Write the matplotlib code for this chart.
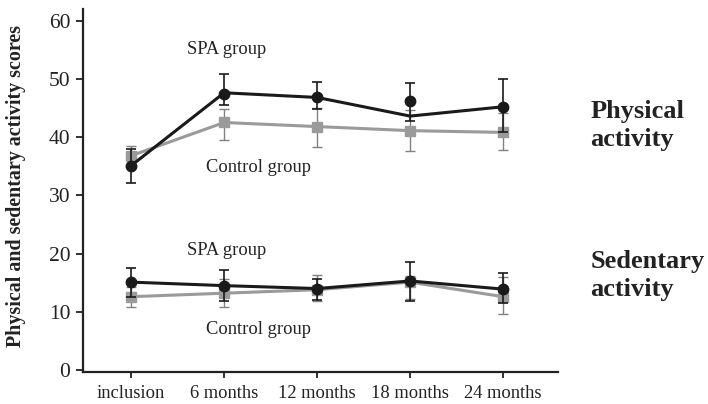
import numpy as np
import matplotlib
matplotlib.use("Agg")
import matplotlib.pyplot as plt

plt.rcParams['font.family'] = ['Liberation Serif', 'DejaVu Serif']

timepoints = ['inclusion', '6 months', '12 months', '18 months', '24 months']

# physical activity, SPA group (line vertices and marker positions differ at 18 months in the source)
phys_spa_line = [35.1, 47.6, 46.8, 43.6, 45.2]
phys_spa_mark = [35.1, 47.4, 46.8, 46.2, 45.2]
phys_spa_low = [32.2, 45.5, 44.8, 42.7, 40.9]
phys_spa_high = [38.0, 50.9, 49.4, 49.3, 50.0]

# physical activity, control group
phys_ctl = [36.8, 42.5, 41.8, 41.1, 40.8]
phys_ctl_low = [35.1, 39.5, 38.3, 37.6, 37.7]
phys_ctl_high = [38.5, 44.8, 45.0, 44.6, 44.1]

# sedentary activity, SPA group
sed_spa = [15.1, 14.5, 14.0, 15.3, 13.9]
sed_spa_low = [12.6, 11.8, 12.1, 11.9, 11.5]
sed_spa_high = [17.6, 17.2, 15.6, 18.5, 16.7]

# sedentary activity, control group
sed_ctl = [12.6, 13.2, 13.8, 15.1, 12.6]
sed_ctl_low = [10.9, 10.8, 11.9, 12.2, 9.6]
sed_ctl_high = [14.3, 15.6, 16.3, 16.1, 16.0]

BLACK = '#1a1a1a'
GRAY = '#9a9a9a'


def errs(mid, low, high):
    mid = np.array(mid)
    return [mid - np.array(low), np.array(high) - mid]


fig = plt.figure(figsize=(7.08, 4.04), dpi=100)
ax = fig.add_axes([0.117, 0.079, 0.671, 0.899])
x = np.arange(len(timepoints))

# control groups first (drawn under)
for mid, low, high in [(phys_ctl, phys_ctl_low, phys_ctl_high),
                       (sed_ctl, sed_ctl_low, sed_ctl_high)]:
    ax.errorbar(x, mid, yerr=errs(mid, low, high), fmt='none', ecolor='#808080',
                elinewidth=1.0, capsize=3.5, capthick=1.0, zorder=2)
    ax.plot(x, mid, color=GRAY, lw=2.2, marker='s', ms=6.5, mfc=GRAY, mec=GRAY, zorder=3)

# SPA groups
ax.errorbar(x, phys_spa_mark, yerr=errs(phys_spa_mark, phys_spa_low, phys_spa_high), fmt='none',
            ecolor=BLACK, elinewidth=1.2, capsize=3.5, capthick=1.2, zorder=4)
ax.plot(x, phys_spa_line, color=BLACK, lw=2.2, zorder=5)
ax.plot(x, phys_spa_mark, ls='none', marker='o', ms=7.5, mfc=BLACK, mec=BLACK, zorder=6)

ax.errorbar(x, sed_spa, yerr=errs(sed_spa, sed_spa_low, sed_spa_high), fmt='none',
            ecolor=BLACK, elinewidth=1.2, capsize=3.5, capthick=1.2, zorder=4)
ax.plot(x, sed_spa, color=BLACK, lw=2.2, marker='o', ms=7.5, mfc=BLACK, mec=BLACK, zorder=6)

ax.set_xlim(-0.52, 4.59)
ax.set_ylim(-0.34, 62.0)
ax.set_xticks(x)
ax.set_xticklabels(timepoints, fontsize=13.3, color='#222222')
ax.set_yticks(range(0, 61, 10))
ax.tick_params(axis='y', labelsize=15.5, direction='out', length=5, width=1.3, colors='#222222', pad=4)
ax.tick_params(axis='x', direction='out', length=4, width=1.3, colors='#222222', pad=5)
for s in ['top', 'right']:
    ax.spines[s].set_visible(False)
for s in ['left', 'bottom']:
    ax.spines[s].set_linewidth(1.6)
    ax.spines[s].set_color('#222222')

# group labels
ax.text(1.03, 55.0, 'SPA group', fontsize=13.3, ha='center', va='center', color='#222222')
ax.text(1.37, 34.7, 'Control group', fontsize=13.3, ha='center', va='center', color='#222222')
ax.text(1.03, 20.6, 'SPA group', fontsize=13.3, ha='center', va='center', color='#222222')
ax.text(1.37, 6.9, 'Control group', fontsize=13.3, ha='center', va='center', color='#222222')

fig.text(0.834, 0.69, 'Physical\nactivity', fontsize=19, fontweight='bold', ha='left',
         va='center', linespacing=1.3, color='#222222')
fig.text(0.834, 0.318, 'Sedentary\nactivity', fontsize=19, fontweight='bold', ha='left',
         va='center', linespacing=1.3, color='#222222')

fig.text(0.023, 0.54, 'Physical and sedentary activity scores', rotation=90, fontsize=14.4,
         fontweight='bold', ha='center', va='center', color='#222222')

fig.savefig('out.png', dpi=100)
